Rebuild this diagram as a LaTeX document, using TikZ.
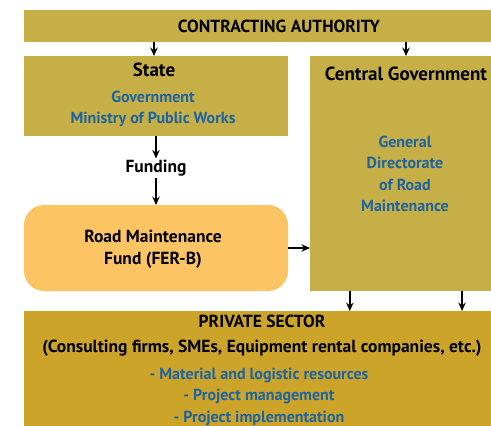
\documentclass[tikz,border=0pt]{standalone}
\usepackage{fontspec}
\setmainfont{PT Sans}
\usetikzlibrary{arrows.meta,calc}

\definecolor{olivebox}{RGB}{199,175,72}
\definecolor{privbox}{RGB}{204,164,42}
\definecolor{fundbox}{RGB}{252,196,98}
\definecolor{bluetxt}{RGB}{30,100,160}

\tikzset{every picture/.style={line width=1.5pt}}
\tikzset{
  panel/.style={draw=none, anchor=north west, inner sep=0pt, outer sep=0pt},
  lbl/.style={inner sep=0.75pt, font=\bfseries\fontsize{17.5}{22}\selectfont, align=center},
  headlbl/.style={lbl, font=\bfseries\fontsize{19}{22}\selectfont},
  bluelbl/.style={lbl, text=bluetxt, font=\bfseries\fontsize{16}{21.5}\selectfont},
  arr/.style={-{Stealth[length=8.5pt,width=7.5pt,inset=3pt]}}
}

\begin{document}
\begin{tikzpicture}[x=1pt,y=1pt,yscale=-1,xscale=1]
\useasboundingbox (0,0) rectangle (491,426);

% Boxes
\node [panel, fill=olivebox, minimum width=467pt, minimum height=32pt] (top) at (24,10) {};
\node [panel, fill=olivebox, minimum width=264pt, minimum height=80pt] (state) at (24,56) {};
\node [panel, fill=olivebox, minimum width=181pt, minimum height=235pt] (central) at (310,56) {};
\node [panel, fill=fundbox, rounded corners=20pt, minimum width=264pt, minimum height=86pt] (fund) at (24,205) {};
\node [panel, fill=privbox, minimum width=467pt, minimum height=115pt] (private) at (24,311) {};

% Text Node
\node [lbl] (toplbl) at (279,26.5) {CONTRACTING AUTHORITY};
% Text Node
\node [headlbl] (statelbl) at (154,70) {State};
% Text Node
\node [bluelbl] (ministry) at (153,109) {Government\\Ministry of Public Works};
% Text Node
\node [headlbl] (centrallbl) at (406,74) {Central Government};
% Text Node
\node [bluelbl] (directorate) at (405,174) {General\\Directorate\\of Road\\Maintenance};
% Text Node
\node [lbl] (funding) at (156,168) {Funding};
% Text Node
\node [lbl] (fundlbl) at (153,249) {Road Maintenance\\Fund (FER-B)};
% Text Node
\node [lbl, font=\bfseries\fontsize{17.5}{25}\selectfont] (privlbl) at (262,336) {PRIVATE SECTOR\\(Consulting firms, SMEs, Equipment rental companies, etc.)};
% Text Node
\node [bluelbl] (privlist) at (259,396.5) {- Material and logistic resources\\- Project management\\- Project implementation};

% Arrows
\coordinate (outa) at ($(central.south west)!0.22!(central.south east)$);
\coordinate (outb) at ($(central.south west)!0.84!(central.south east)$);
\draw [arr] (top.south -| statelbl) -- (state.north -| statelbl);
\draw [arr] (top.south -| centrallbl) -- (central.north -| centrallbl);
\draw [arr] (state.south -| funding) -- (funding.north);
\draw [arr] (funding.south) -- (fund.north -| funding);
\draw [arr] (fund.east) -- (central.west |- fund.east);
\draw [arr] (outa) -- (outa |- private.north);
\draw [arr] (outb) -- (outb |- private.north);

\end{tikzpicture}
\end{document}
